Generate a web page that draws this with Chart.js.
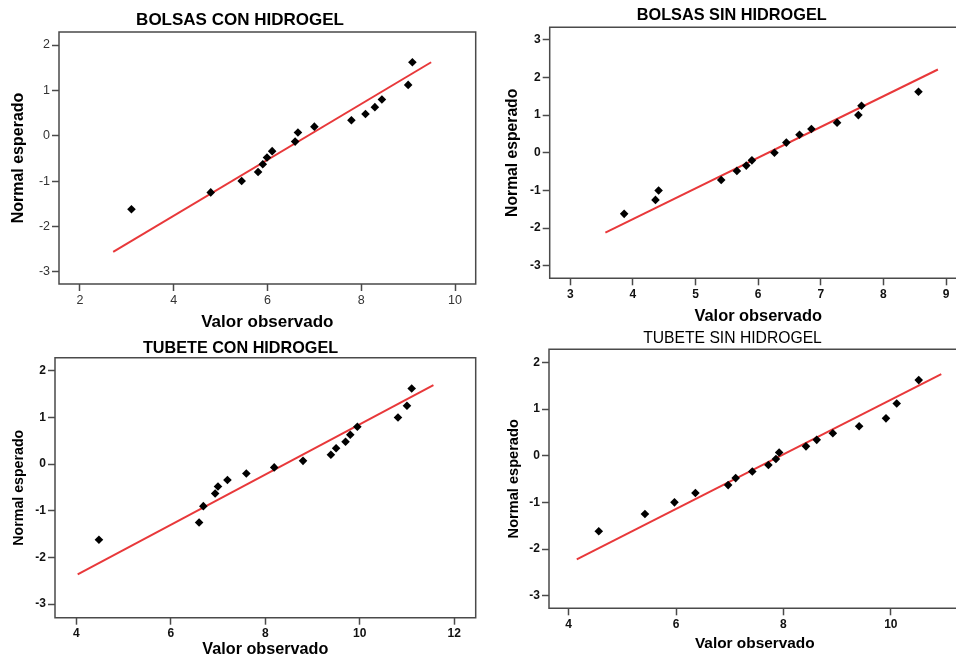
<!DOCTYPE html>
<html>
<head>
<meta charset="utf-8">
<script src="https://cdn.jsdelivr.net/npm/chart.js@4/dist/chart.umd.min.js"></script>
<style>
  html, body { margin: 0; padding: 0; width: 956px; height: 659px; overflow: hidden; background: #fff; }
  canvas { position: absolute; }
</style>
</head>
<body>
<canvas id="c1"></canvas>
<canvas id="c2"></canvas>
<canvas id="c3"></canvas>
<canvas id="c4"></canvas>
<script>
// ---- Gráfico Q-Q normal: BOLSAS CON HIDROGEL ----
const bolsasConObservado = [3.10, 4.79, 5.45, 5.80, 5.90, 5.99, 6.10, 6.59, 6.65, 7.00, 7.79, 8.09, 8.29, 8.44, 9.00, 9.09];
const bolsasConEsperado  = [-1.62, -1.25, -1.00, -0.80, -0.63, -0.48, -0.34, -0.13, 0.07, 0.20, 0.34, 0.48, 0.63, 0.80, 1.12, 1.62];
const bolsasConRectaObs  = [2.71, 9.49];
const bolsasConRectaEsp  = [-2.56, 1.62];
const bolsasConTicksX    = [2, 4, 6, 8, 10];
const bolsasConTicksY    = [-3, -2, -1, 0, 1, 2];

// ---- BOLSAS SIN HIDROGEL ----
const bolsasSinObservado = [3.86, 4.36, 4.41, 5.41, 5.66, 5.81, 5.90, 6.26, 6.45, 6.66, 6.85, 7.26, 7.60, 7.65, 8.56];
const bolsasSinEsperado  = [-1.62, -1.25, -1.00, -0.72, -0.48, -0.34, -0.20, 0.00, 0.27, 0.48, 0.63, 0.80, 1.00, 1.25, 1.62];
const bolsasSinRectaObs  = [3.56, 8.87];
const bolsasSinRectaEsp  = [-2.12, 2.21];
const bolsasSinTicksX    = [3, 4, 5, 6, 7, 8, 9];
const bolsasSinTicksY    = [-3, -2, -1, 0, 1, 2, 3];

// ---- TUBETE CON HIDROGEL ----
const tubeteConObservado = [4.48, 6.60, 6.69, 6.94, 7.00, 7.20, 7.60, 8.19, 8.80, 9.39, 9.50, 9.70, 9.80, 9.95, 10.81, 11.00, 11.10];
const tubeteConEsperado  = [-1.62, -1.25, -0.90, -0.63, -0.48, -0.34, -0.20, -0.07, 0.07, 0.20, 0.34, 0.48, 0.63, 0.80, 1.00, 1.25, 1.62];
const tubeteConRectaObs  = [4.03, 11.56];
const tubeteConRectaEsp  = [-2.36, 1.69];
const tubeteConTicksX    = [4, 6, 8, 10, 12];
const tubeteConTicksY    = [-3, -2, -1, 0, 1, 2];

// ---- TUBETE SIN HIDROGEL ----
const tubeteSinObservado = [4.56, 5.42, 5.97, 6.36, 6.97, 7.11, 7.42, 7.72, 7.86, 7.92, 8.42, 8.62, 8.92, 9.41, 9.91, 10.11, 10.52];
const tubeteSinEsperado  = [-1.62, -1.25, -1.00, -0.80, -0.63, -0.48, -0.34, -0.20, -0.07, 0.07, 0.20, 0.34, 0.48, 0.63, 0.80, 1.12, 1.62];
const tubeteSinRectaObs  = [4.15, 10.94];
const tubeteSinRectaEsp  = [-2.22, 1.75];
const tubeteSinTicksX    = [4, 6, 8, 10];
const tubeteSinTicksY    = [-3, -2, -1, 0, 1, 2];

const FONT = "Arial, 'Liberation Sans', sans-serif";
const RED = '#e8383a';
const FRAME = '#4a4a4a';

// Box around the plot area; panels running past the page edge have no right side
const framePlugin = {
  id: 'frame',
  beforeDatasetsDraw(chart, args, opts) {
    const a = chart.chartArea, ctx = chart.ctx;
    ctx.save();
    ctx.strokeStyle = FRAME;
    ctx.lineWidth = 1.5;
    ctx.beginPath();
    if (opts.right === false) {
      ctx.moveTo(a.right + 4, a.top);
      ctx.lineTo(a.left, a.top);
      ctx.lineTo(a.left, a.bottom);
      ctx.lineTo(a.right + 4, a.bottom);
    } else {
      ctx.rect(a.left, a.top, a.right - a.left, a.bottom - a.top);
    }
    ctx.stroke();
    ctx.restore();
  }
};

function makePanel(p) {
  const cv = document.getElementById(p.id);
  cv.width = p.box.w; cv.height = p.box.h;
  cv.style.left = p.box.x + 'px'; cv.style.top = p.box.y + 'px';

  // Layout arithmetic: place the plot area, titles and axis titles
  const L = p.area.l - p.box.x, R = p.area.r - p.box.x;
  const T = p.area.t - p.box.y, B = p.area.b - p.box.y;
  const padRight = p.box.w - R;
  const padLeft = Math.max(0, 2 * (p.titleX - p.box.x) - R);
  const yAxisW = L - padLeft;
  const tSize = p.titleFont.size;
  const tTop = Math.max(0, (p.titleY - p.box.y) - tSize / 2);
  const tBottom = Math.max(0, T - tTop - tSize);
  const xSize = p.xTitleSize;
  const xAxisH = p.box.h - B;
  const xPadBottom = Math.max(0, p.box.h - (p.xTitleY - p.box.y) - xSize / 2);
  const ySize = p.yTitleSize;
  const yOffset = (p.yTitleX - p.box.x) - padLeft;
  let yLine = ySize, yPadTop = yOffset - ySize / 2;
  if (yPadTop < 0) { yLine = 2 * yOffset; yPadTop = 0; }

  const pts = p.obs.map((v, i) => ({ x: v, y: p.esp[i] }));
  const line = p.lineObs.map((v, i) => ({ x: v, y: p.lineEsp[i] }));

  const tickFont = { family: FONT, size: p.tickSize, weight: p.tickWeight };
  const gridOpts = { display: true, drawOnChartArea: false, drawTicks: true, tickLength: 7, tickWidth: 1.5, tickColor: FRAME, color: FRAME };

  new Chart(cv, {
    type: 'scatter',
    data: {
      datasets: [
        { data: line, showLine: true, borderColor: RED, borderWidth: 2, pointRadius: 0, order: 2 },
        { data: pts, pointStyle: 'rectRot', pointRadius: 4.3, backgroundColor: '#000', borderWidth: 0, order: 1 }
      ]
    },
    options: {
      responsive: false,
      animation: false,
      events: [],
      layout: { padding: { left: padLeft, right: padRight, top: 0, bottom: 0 } },
      plugins: {
        legend: { display: false },
        tooltip: { enabled: false },
        frame: { right: p.rightBorder },
        title: {
          display: true,
          text: p.title,
          color: '#000',
          font: { family: FONT, size: tSize, weight: p.titleFont.weight, lineHeight: 1 },
          padding: { top: tTop, bottom: tBottom }
        }
      },
      scales: {
        x: {
          type: 'linear',
          min: p.xMin, max: p.xMax,
          afterBuildTicks: s => { s.ticks = p.ticksX.map(v => ({ value: v })); },
          afterFit: s => { s.height = xAxisH; },
          grid: gridOpts,
          border: { display: false },
          ticks: { font: tickFont, color: p.tickColor, padding: 2, maxRotation: 0, autoSkip: false },
          title: {
            display: true, text: 'Valor observado', color: '#000',
            font: { family: FONT, size: xSize, weight: 'bold', lineHeight: 1 },
            padding: { top: 0, bottom: xPadBottom }
          }
        },
        y: {
          type: 'linear',
          min: p.yMin, max: p.yMax,
          afterBuildTicks: s => { s.ticks = p.ticksY.map(v => ({ value: v })); },
          afterFit: s => { s.width = yAxisW; },
          grid: gridOpts,
          border: { display: false },
          ticks: { font: tickFont, color: p.tickColor, padding: 2, autoSkip: false },
          title: {
            display: true, text: 'Normal esperado', color: '#000',
            font: { family: FONT, size: ySize, weight: 'bold', lineHeight: yLine / ySize },
            padding: { top: yPadTop, bottom: 0 }
          }
        }
      }
    },
    plugins: [framePlugin]
  });
}

makePanel({
  id: 'c1', title: 'BOLSAS CON HIDROGEL', titleFont: { size: 17, weight: 'bold' },
  box: { x: 0, y: 0, w: 480, h: 335 }, area: { l: 59, r: 478, t: 32, b: 284 }, rightBorder: true,
  titleX: 240, titleY: 20, xTitleY: 322, yTitleX: 19, xTitleSize: 17, yTitleSize: 16,
  tickSize: 12.5, tickWeight: 'normal', tickColor: '#333',
  xMin: 1.555, xMax: 10.44, yMin: -3.27, yMax: 2.287,
  ticksX: bolsasConTicksX, ticksY: bolsasConTicksY,
  obs: bolsasConObservado, esp: bolsasConEsperado, lineObs: bolsasConRectaObs, lineEsp: bolsasConRectaEsp
});

makePanel({
  id: 'c2', title: 'BOLSAS SIN HIDROGEL', titleFont: { size: 16.3, weight: 'bold' },
  box: { x: 480, y: 0, w: 500, h: 330 }, area: { l: 549.7, r: 966.7, t: 27.3, b: 278.3 }, rightBorder: false,
  titleX: 731.7, titleY: 16, xTitleY: 316.7, yTitleX: 512.3, xTitleSize: 16.4, yTitleSize: 15.7,
  tickSize: 12, tickWeight: 'bold', tickColor: '#111',
  xMin: 2.671, xMax: 9.33, yMin: -3.33, yMax: 3.33,
  ticksX: bolsasSinTicksX, ticksY: bolsasSinTicksY,
  obs: bolsasSinObservado, esp: bolsasSinEsperado, lineObs: bolsasSinRectaObs, lineEsp: bolsasSinRectaEsp
});

makePanel({
  id: 'c3', title: 'TUBETE CON HIDROGEL', titleFont: { size: 16.2, weight: 'bold' },
  box: { x: 0, y: 335, w: 480, h: 324 }, area: { l: 55, r: 478.3, t: 357.7, b: 617.7 }, rightBorder: true,
  titleX: 240.5, titleY: 348.3, xTitleY: 650, yTitleX: 19, xTitleSize: 16.2, yTitleSize: 14.2,
  tickSize: 12, tickWeight: 'bold', tickColor: '#111',
  xMin: 3.55, xMax: 12.455, yMin: -3.29, yMax: 2.28,
  ticksX: tubeteConTicksX, ticksY: tubeteConTicksY,
  obs: tubeteConObservado, esp: tubeteConEsperado, lineObs: tubeteConRectaObs, lineEsp: tubeteConRectaEsp
});

makePanel({
  id: 'c4', title: 'TUBETE SIN HIDROGEL', titleFont: { size: 15.7, weight: 'normal' },
  box: { x: 480, y: 320, w: 500, h: 339 }, area: { l: 549, r: 960.6, t: 349.3, b: 608.3 }, rightBorder: false,
  titleX: 732.5, titleY: 339, xTitleY: 643.3, yTitleX: 514.3, xTitleSize: 15.4, yTitleSize: 14.6,
  tickSize: 12, tickWeight: 'bold', tickColor: '#111',
  xMin: 3.633, xMax: 11.3, yMin: -3.27, yMax: 2.28,
  ticksX: tubeteSinTicksX, ticksY: tubeteSinTicksY,
  obs: tubeteSinObservado, esp: tubeteSinEsperado, lineObs: tubeteSinRectaObs, lineEsp: tubeteSinRectaEsp
});
</script>
</body>
</html>
